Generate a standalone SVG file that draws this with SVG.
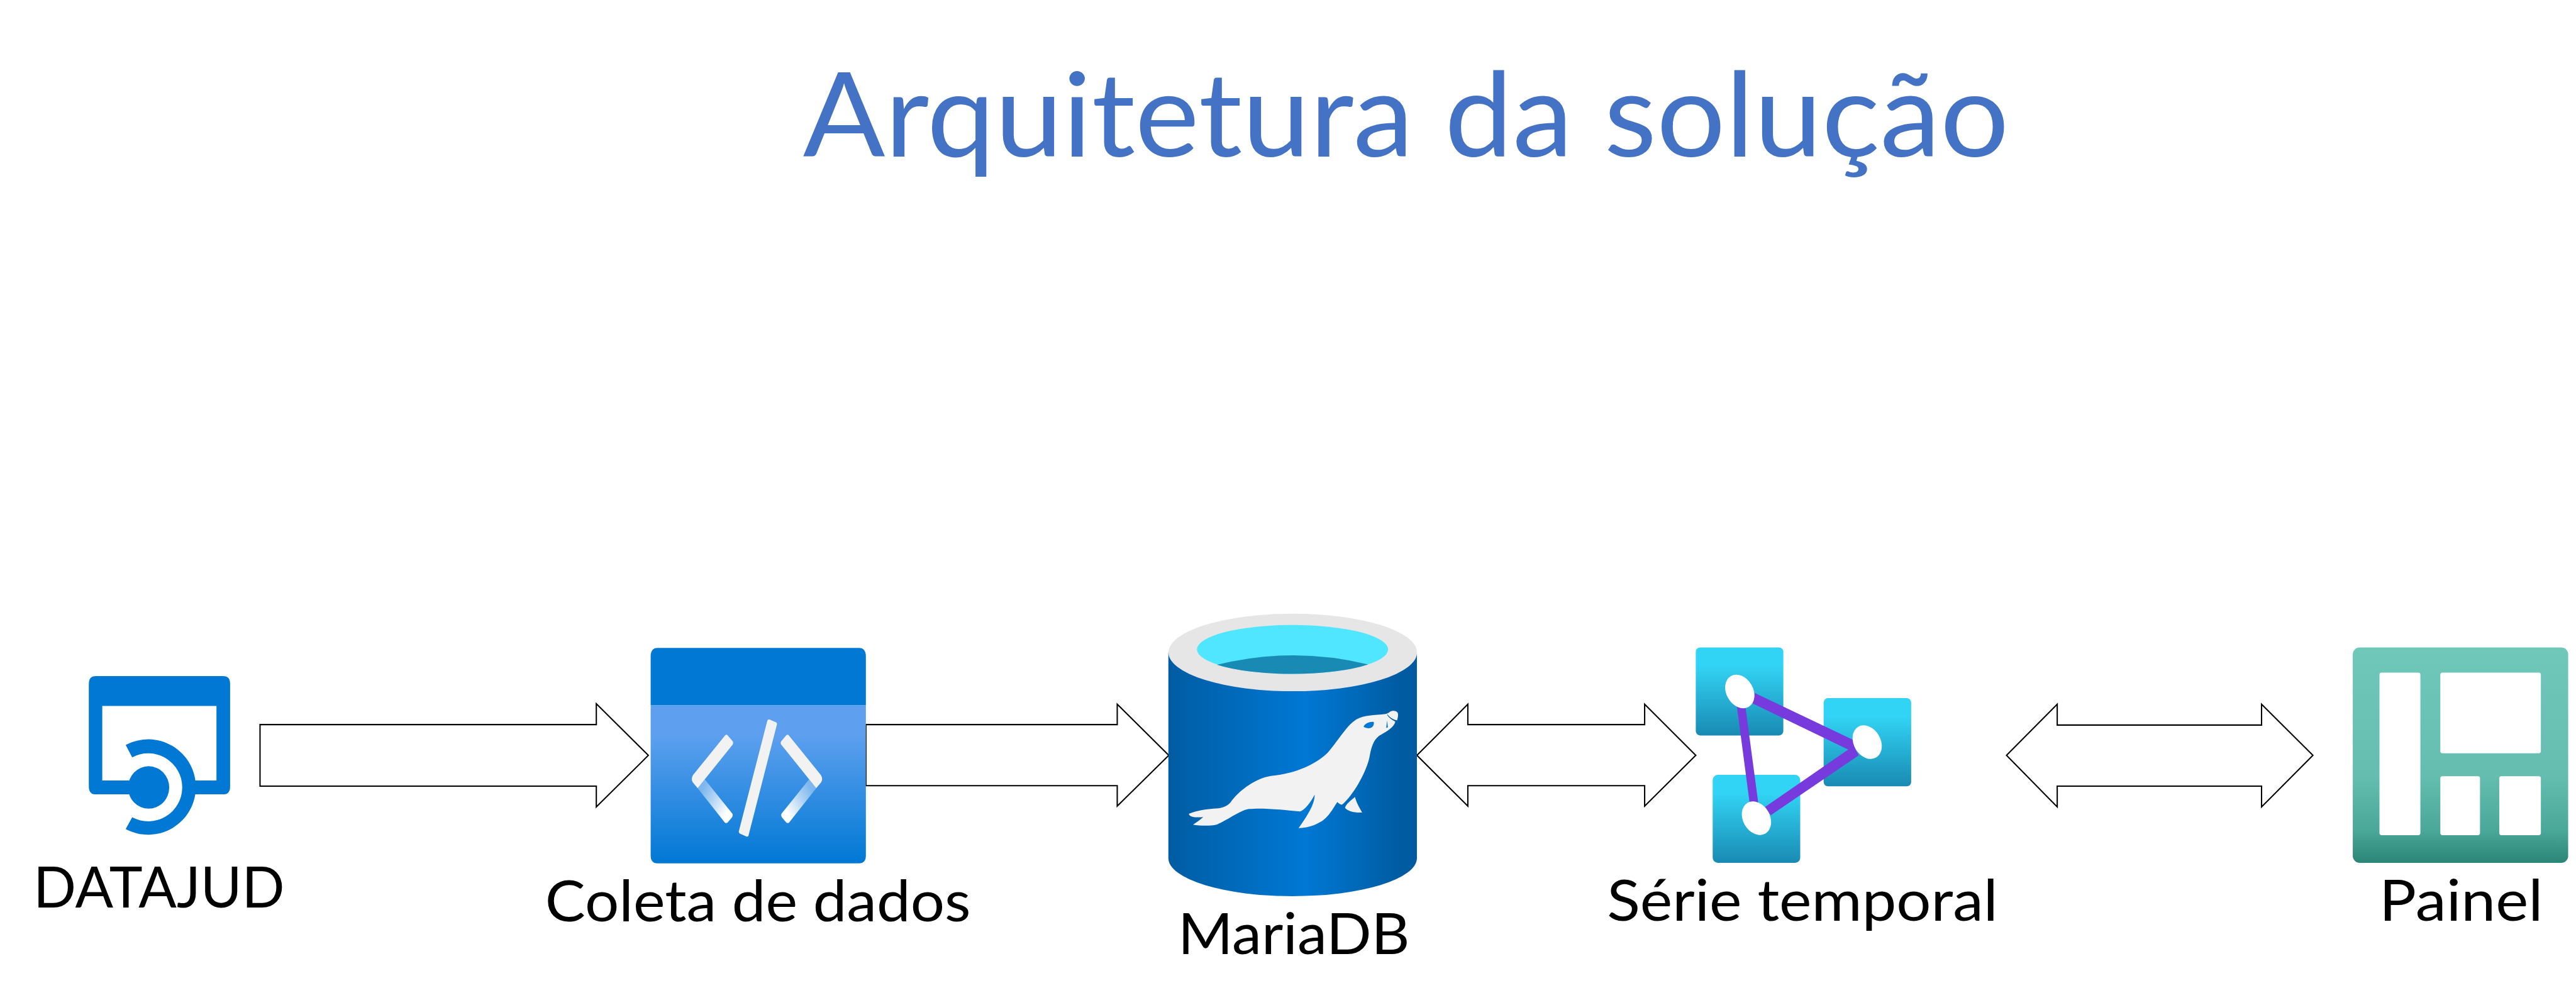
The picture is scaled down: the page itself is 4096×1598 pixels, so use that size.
<svg xmlns="http://www.w3.org/2000/svg" width="4096" height="1598" viewBox="0 0 4096 1598">
<defs>
<style>
text{font-family:"Lato","Carlito","Open Sans",sans-serif;fill:#000;font-size:133px}
#title text{fill:#4472C4;font-size:270px}
.arrow{fill:#fff;stroke:#000;stroke-width:3;stroke-linejoin:miter}
.tile{fill:url(#gTile)}
.link{fill:#773ADC}
.dot{fill:#fff}
.pane{fill:#fff}
.seal{fill:#F2F2F2}
</style>
<linearGradient id="gCode" x1="0" y1="0" x2="0" y2="1"><stop offset="0" stop-color="#5EA0EF"/><stop offset="0.18" stop-color="#5EA0EF"/><stop offset="1" stop-color="#0078D4"/></linearGradient>
<linearGradient id="gCyl" x1="0" y1="0" x2="1" y2="0"><stop offset="0" stop-color="#005BA1"/><stop offset="0.07" stop-color="#0060A9"/><stop offset="0.55" stop-color="#0078D4"/><stop offset="0.94" stop-color="#005BA1"/></linearGradient>
<linearGradient id="gTile" x1="0" y1="0" x2="0" y2="1"><stop offset="0" stop-color="#32D4F5"/><stop offset="0.2" stop-color="#32D4F5"/><stop offset="1" stop-color="#198AB3"/></linearGradient>
<linearGradient id="gPanel" x1="0" y1="0" x2="0" y2="1"><stop offset="0" stop-color="#6FC8BA"/><stop offset="0.6" stop-color="#64BDAE"/><stop offset="0.85" stop-color="#4AA898"/><stop offset="1" stop-color="#2A8577"/></linearGradient>
<linearGradient id="gChevL" gradientUnits="userSpaceOnUse" x1="340" y1="740" x2="450" y2="800"><stop offset="0" stop-color="#fff" stop-opacity="0.35"/><stop offset="1" stop-color="#fff"/></linearGradient>
<linearGradient id="gChevR" gradientUnits="userSpaceOnUse" x1="747" y1="740" x2="637" y2="800"><stop offset="0" stop-color="#fff" stop-opacity="0.35"/><stop offset="1" stop-color="#fff"/></linearGradient>
</defs>
<rect width="4096" height="1598" fill="#fff"/>
<g transform="scale(0.68909)">
<g id="title"><text x="1853" y="361" textLength="2783" lengthAdjust="spacingAndGlyphs">Arquitetura da solução</text></g>
<g id="connectors">
<path class="arrow" d="M600 1672H1376V1624L1496 1743L1376 1862V1814H600Z"/>
<path class="arrow" d="M1998 1672H2578V1625L2697 1743L2578 1860V1813H1998Z"/>
<path class="arrow" d="M3269.500 1743L3387 1625V1672H3795V1625L3913 1743L3795 1860V1813H3387V1860Z"/>
<path class="arrow" d="M4630 1743L4747 1625V1673H5218.500V1625L5337 1743L5218.500 1862V1814H4747V1862Z"/>
</g>
<g id="datajud">
<path fill="#0078D4" fill-rule="evenodd" d="M221 1560H515Q531 1560 531 1578V1815Q531 1833 515 1833H221Q205 1833 205 1815V1578Q205 1560 221 1560ZM236 1629V1801H499.500V1629Z"/>
<path fill="#fff" d="M343 1738.500A78.500 78.500 0 0 1 343 1895.500Z"/>
<path fill="#0078D4" d="M290 1719A110 110 0 1 1 290 1913L305 1886A78.500 78.500 0 1 0 305 1747.500Z"/>
<ellipse cx="343" cy="1817" rx="47.500" ry="49" fill="#0078D4"/>
<text x="77" y="2094" textLength="580" lengthAdjust="spacingAndGlyphs">DATAJUD</text>
</g>
<g id="coleta">
<path fill="url(#gCode)" d="M1501.400 1627H1998V1974Q1998 1992 1982 1992H1517Q1501.400 1992 1501.400 1974Z"/>
<path fill="#0078D4" d="M1517 1495H1982Q1998 1495 1998 1515V1627H1501.400V1515Q1501.400 1495 1517 1495Z"/>
<g transform="translate(1400,1420) scale(.6378,.5485)">
<path fill="url(#gChevL)" d="M355 690L455 835Q457 843 453 850L437 872Q431 876 427 871L329 727Z"/>
<path fill="url(#gChevR)" d="M732 690L632 835Q630 843 634 850L650 872Q656 876 660 871L758 727Z"/>
<path fill="#F2F2F2" d="M428 505Q433 499 438 505L456 530Q459 537 456 543L329 727L311 702Q304 688 312 672Z"/>
<path fill="#F2F2F2" d="M659 505Q654 499 649 505L631 530Q628 537 631 543L758 727L776 702Q783 688 775 672Z"/>
<path fill="#F2F2F2" d="M581 443Q583 436 589 438L611 449Q617 452 616 458L513 926Q511 933 505 930L482 918Q477 915 478 908Z"/>
</g>
<text x="1258" y="2126" textLength="982" lengthAdjust="spacingAndGlyphs">Coleta de dados</text>
</g>
<g id="mariadb">
<path fill="url(#gCyl)" d="M2696 1506H3269.500V1980A286.750 88 0 0 1 2696 1980Z"/>
<ellipse cx="2983" cy="1505.500" rx="286.750" ry="89.500" fill="#E6E6E6"/>
<ellipse cx="2982.500" cy="1498.500" rx="220.500" ry="56.500" fill="#50E6FF"/>
<path fill="#198AB3" d="M2808 1534Q2982 1490.500 3157 1533A220.500 56.500 0 0 1 2982.500 1555A220.500 56.500 0 0 1 2808 1534Z"/>
<g transform="translate(2550,1380) scale(.6378,.574)">
<path class="seal" d="M303 867C330 855 360 848 410 845C435 842 450 830 460 812C490 770 545 725 600 715C670 708 750 680 805 622C840 578 870 520 900 495C925 472 960 472 1000 468C1015 467 1025 464 1032 456C1040 451 1055 452 1059 462C1061 470 1059 482 1056 492C1040 488 1028 478 1022 468L1020 470C1028 482 1040 492 1050 497C1045 520 1020 535 1000 548C975 562 965 590 958 630C950 690 900 790 858 830C852 832 846 826 840 820C825 845 805 890 770 905C750 918 725 923 700 925C725 885 760 830 758 790C745 820 720 855 705 858C650 852 570 842 520 848C485 855 440 895 405 910C380 917 345 916 318 911C330 903 345 890 355 880C335 883 305 882 303 867Z"/>
<path class="seal" d="M904 800C910 825 920 842 930 862C905 865 875 855 868 843C870 830 890 812 904 800Z"/>
<path fill="#0078D4" d="M935 517C940 503 960 495 972 498C974 510 968 520 958 523C950 524 940 522 935 517Z"/>
<path fill="#0078D4" d="M1020 492L1017 522L1023 520Z"/>
</g>
<text x="2718" y="2202" textLength="535" lengthAdjust="spacingAndGlyphs">MariaDB</text>
</g>
<g id="serie">
<rect class="tile" x="3913" y="1494" width="202" height="203" rx="10"/>
<rect class="tile" x="4208" y="1611" width="202" height="203.500" rx="10"/>
<rect class="tile" x="3952" y="1788" width="202" height="203" rx="12"/>
<path class="link" d="M4049 1599L4275.500 1707L4284 1739L4044 1623Z"/>
<path class="link" d="M4008 1631L4028 1634L4057 1852L4037 1851Z"/>
<path class="link" d="M4073 1862L4277 1721L4289 1743L4086 1881Z"/>
<ellipse class="dot" cx="4014.500" cy="1595.500" rx="31" ry="41" transform="rotate(-30 4014.500 1595.500)"/>
<ellipse class="dot" cx="4308.500" cy="1712.500" rx="31" ry="41" transform="rotate(-30 4308.500 1712.500)"/>
<ellipse class="dot" cx="4053" cy="1888" rx="31" ry="41" transform="rotate(-30 4053 1888)"/>
<text x="3708" y="2125" textLength="902" lengthAdjust="spacingAndGlyphs">Série temporal</text>
</g>
<g id="painel">
<rect x="5429" y="1494" width="497" height="497" rx="16" fill="url(#gPanel)"/>
<rect class="pane" x="5490.600" y="1552" width="94.400" height="375" rx="5"/>
<rect class="pane" x="5631" y="1552" width="232" height="186" rx="5"/>
<rect class="pane" x="5631" y="1791" width="91.600" height="136" rx="5"/>
<rect class="pane" x="5767" y="1791" width="96" height="136" rx="5"/>
<text x="5490" y="2125" textLength="378" lengthAdjust="spacingAndGlyphs">Painel</text>
</g>
</g>
</svg>
